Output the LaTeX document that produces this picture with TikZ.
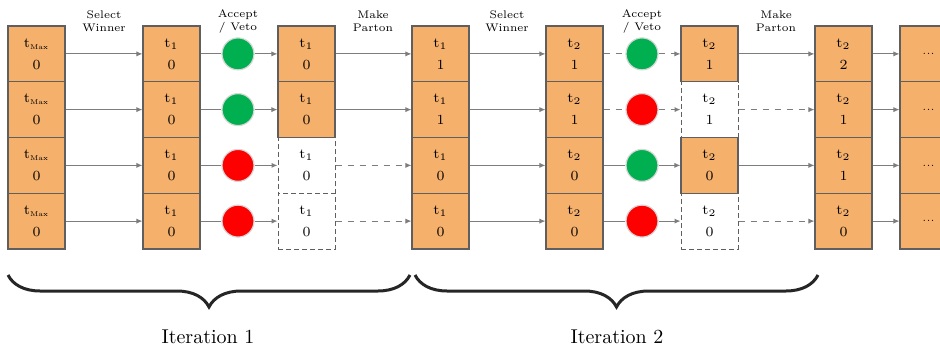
\documentclass[tikz,border=0pt]{standalone}
\usetikzlibrary{arrows.meta,decorations.pathreplacing}
\definecolor{boxorange}{RGB}{245,176,108}
\definecolor{boxline}{RGB}{95,95,95}
\definecolor{accgreen}{RGB}{0,176,80}
\definecolor{vetored}{RGB}{255,0,0}
\definecolor{ringgray}{RGB}{215,215,215}
\definecolor{arrowgray}{RGB}{125,125,125}
\newcommand{\tmax}{t\textsubscript{\fontsize{3.5}{4}\selectfont Max}}

\begin{document}
\begin{tikzpicture}[x=0.5pt,y=0.5pt,
  every node/.style={inner sep=0pt},
  keptbox/.style={draw=boxline,fill=boxorange,line width=0.55pt,minimum width=28.5pt,minimum height=27.9pt,align=center,font=\scriptsize},
  droppedbox/.style={keptbox,fill=white,dash pattern=on 2.5pt off 1.5pt,line width=0.5pt},
  morebox/.style={keptbox,font=\tiny},
  accept/.style={circle,draw=ringgray,line width=0.6pt,fill=accgreen,minimum size=16pt},
  veto/.style={accept,fill=vetored},
  flow/.style={draw=arrowgray,line width=0.5pt,-{Latex[length=3pt,width=2.6pt]}},
  flowdashed/.style={flow,dashed},
  link/.style={draw=arrowgray,line width=0.5pt},
  linkdashed/.style={link,dashed},
  caption/.style={align=center,font=\fontsize{5.5}{6.5}\selectfont},
  itbrace/.style={decorate,decoration={brace,mirror,amplitude=16pt},line width=1.5pt,black!85},
  itlabel/.style={font=\normalsize}]
\useasboundingbox (0,0) rectangle (940,-347);
\clip (0,0) rectangle (940,-347);
% iteration 1
\node [keptbox] (c1r1) at (36.5,-53.9) {\tmax\\[3pt]0};
\node [keptbox] (c1r2) at (36.5,-109.6) {\tmax\\[3pt]0};
\node [keptbox] (c1r3) at (36.5,-165.4) {\tmax\\[3pt]0};
\node [keptbox] (c1r4) at (36.5,-221.1) {\tmax\\[3pt]0};
\node [keptbox] (c2r1) at (171.5,-53.9) {t$_1$\\[3pt]0};
\node [keptbox] (c2r2) at (171.5,-109.6) {t$_1$\\[3pt]0};
\node [keptbox] (c2r3) at (171.5,-165.4) {t$_1$\\[3pt]0};
\node [keptbox] (c2r4) at (171.5,-221.1) {t$_1$\\[3pt]0};
\node [accept] (v1r1) at (238,-53.9) {};
\node [accept] (v1r2) at (238,-109.6) {};
\node [veto] (v1r3) at (238,-165.4) {};
\node [veto] (v1r4) at (238,-221.1) {};
\node [droppedbox] (c3r3) at (306.5,-165.4) {t$_1$\\[3pt]0};
\node [droppedbox] (c3r4) at (306.5,-221.1) {t$_1$\\[3pt]0};
\node [keptbox] (c3r1) at (306.5,-53.9) {t$_1$\\[3pt]0};
\node [keptbox] (c3r2) at (306.5,-109.6) {t$_1$\\[3pt]0};
\node [keptbox] (c4r1) at (440.5,-53.9) {t$_1$\\[3pt]1};
\node [keptbox] (c4r2) at (440.5,-109.6) {t$_1$\\[3pt]1};
\node [keptbox] (c4r3) at (440.5,-165.4) {t$_1$\\[3pt]0};
\node [keptbox] (c4r4) at (440.5,-221.1) {t$_1$\\[3pt]0};
% iteration 2
\node [keptbox] (c5r1) at (574.5,-53.9) {t$_2$\\[3pt]1};
\node [keptbox] (c5r2) at (574.5,-109.6) {t$_2$\\[3pt]1};
\node [keptbox] (c5r3) at (574.5,-165.4) {t$_2$\\[3pt]0};
\node [keptbox] (c5r4) at (574.5,-221.1) {t$_2$\\[3pt]0};
\node [accept] (v2r1) at (642,-53.9) {};
\node [veto] (v2r2) at (642,-109.6) {};
\node [accept] (v2r3) at (642,-165.4) {};
\node [veto] (v2r4) at (642,-221.1) {};
\node [droppedbox] (c6r2) at (709.5,-109.6) {t$_2$\\[3pt]1};
\node [droppedbox] (c6r4) at (709.5,-221.1) {t$_2$\\[3pt]0};
\node [keptbox] (c6r1) at (709.5,-53.9) {t$_2$\\[3pt]1};
\node [keptbox] (c6r3) at (709.5,-165.4) {t$_2$\\[3pt]0};
\node [keptbox] (c7r1) at (843.5,-53.9) {t$_2$\\[3pt]2};
\node [keptbox] (c7r2) at (843.5,-109.6) {t$_2$\\[3pt]1};
\node [keptbox] (c7r3) at (843.5,-165.4) {t$_2$\\[3pt]1};
\node [keptbox] (c7r4) at (843.5,-221.1) {t$_2$\\[3pt]0};
\node [morebox] (c8r1) at (928.5,-53.9) {...};
\node [morebox] (c8r2) at (928.5,-109.6) {...};
\node [morebox] (c8r3) at (928.5,-165.4) {...};
\node [morebox] (c8r4) at (928.5,-221.1) {...};
% step captions
\node [caption] (sel1) at (104,-21.5) {Select\\Winner};
\node [caption] (acc1) at (238,-21.5) {Accept\\/ Veto};
\node [caption] (mk1) at (373,-21.5) {Make\\Parton};
\node [caption] (sel2) at (507,-21.5) {Select\\Winner};
\node [caption] (acc2) at (642,-21.5) {Accept\\/ Veto};
\node [caption] (mk2) at (776,-21.5) {Make\\Parton};
% connectors
\draw [flow] (c1r1.east) -- (c2r1.west);
\draw [flow] (c1r2.east) -- (c2r2.west);
\draw [flow] (c1r3.east) -- (c2r3.west);
\draw [flow] (c1r4.east) -- (c2r4.west);
\draw [link] (c2r1.east) -- (v1r1.west);
\draw [link] (c2r2.east) -- (v1r2.west);
\draw [link] (c2r3.east) -- (v1r3.west);
\draw [link] (c2r4.east) -- (v1r4.west);
\draw [flow] (v1r1.east) -- (c3r1.west);
\draw [flow] (v1r2.east) -- (c3r2.west);
\draw [flow] (v1r3.east) -- (c3r3.west);
\draw [flow] (v1r4.east) -- (c3r4.west);
\draw [flow] (c3r1.east) -- (c4r1.west);
\draw [flow] (c3r2.east) -- (c4r2.west);
\draw [flowdashed] (c3r3.east) -- (c4r3.west);
\draw [flowdashed] (c3r4.east) -- (c4r4.west);
\draw [flow] (c4r1.east) -- (c5r1.west);
\draw [flow] (c4r2.east) -- (c5r2.west);
\draw [flow] (c4r3.east) -- (c5r3.west);
\draw [flow] (c4r4.east) -- (c5r4.west);
\draw [linkdashed] (c5r1.east) -- (v2r1.west);
\draw [linkdashed] (c5r2.east) -- (v2r2.west);
\draw [link] (c5r3.east) -- (v2r3.west);
\draw [link] (c5r4.east) -- (v2r4.west);
\draw [flowdashed] (v2r1.east) -- (c6r1.west);
\draw [flowdashed] (v2r2.east) -- (c6r2.west);
\draw [flow] (v2r3.east) -- (c6r3.west);
\draw [flow] (v2r4.east) -- (c6r4.west);
\draw [flow] (c6r1.east) -- (c7r1.west);
\draw [flowdashed] (c6r2.east) -- (c7r2.west);
\draw [flow] (c6r3.east) -- (c7r3.west);
\draw [flowdashed] (c6r4.east) -- (c7r4.west);
\draw [flow] (c7r1.east) -- (c8r1.west);
\draw [flow] (c7r2.east) -- (c8r2.west);
\draw [flow] (c7r3.east) -- (c8r3.west);
\draw [flow] (c7r4.east) -- (c8r4.west);
% iterations
\coordinate (b1s) at (8,-275);
\coordinate (b1e) at (410,-275);
\coordinate (b2s) at (415,-275);
\coordinate (b2e) at (818,-275);
\draw [itbrace] (b1s) -- (b1e);
\draw [itbrace] (b2s) -- (b2e);
\node [itlabel] (it1) at (208,-337) {Iteration 1};
\node [itlabel] (it2) at (617,-337) {Iteration 2};
\end{tikzpicture}
\end{document}
